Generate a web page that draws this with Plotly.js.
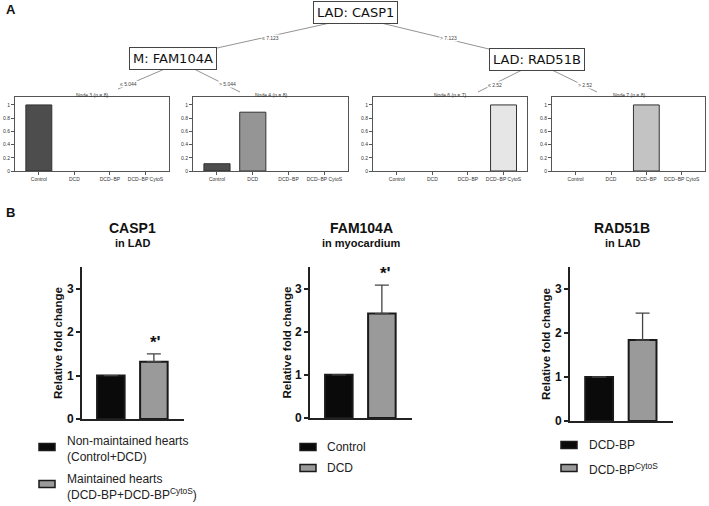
<!DOCTYPE html>
<html><head><meta charset="utf-8">
<script src="https://cdn.plot.ly/plotly-3.0.1.min.js"></script>
<style>html,body{margin:0;padding:0;background:#fff}#chart{width:709px;height:506px}</style>
</head><body><div id="chart"></div>
<script>
// ---------- data: panel A (decision tree terminal nodes) ----------
const treeCats = ['Control', 'DCD', 'DCD\u2212BP', 'DCD\u2212BP CytoS'];
const treeColors = ['#4D4D4D', '#959595', '#C3C3C3', '#E6E6E6'];
const node3 = [1, 0, 0, 0];
const node4 = [0.11, 0.89, 0, 0];
const node6 = [0, 0, 0, 1];
const node7 = [0, 0, 1, 0];
const nodeTitles = ['Node 3 (n = 8)', 'Node 4 (n = 8)', 'Node 6 (n = 7)', 'Node 7 (n = 8)'];
const splitNodes = ['LAD: CASP1', 'M: FAM104A', 'LAD: RAD51B'];
const splitLabels = ['\u2264 7.123', '> 7.123', '\u2264 5.044', '> 5.044', '\u2264 2.52', '> 2.52'];
const treeTicks = [0, 0.2, 0.4, 0.6, 0.8, 1];

// ---------- data: panel B (relative fold change) ----------
const casp1Groups = ['Non-maintained hearts<br>(Control+DCD)', 'Maintained hearts<br>(DCD-BP+DCD-BP<sup>CytoS</sup>)'];
const casp1Values = [1, 1.32];
const casp1Err = [0, 0.18];
const famGroups = ['Control', 'DCD'];
const famValues = [1, 2.42];
const famErr = [0, 0.66];
const radGroups = ['DCD-BP', 'DCD-BP<sup>CytoS</sup>'];
const radValues = [1, 1.84];
const radErr = [0, 0.61];
const panelTitles = ['CASP1', 'FAM104A', 'RAD51B'];
const panelSubs = ['in LAD', 'in myocardium', 'in LAD'];
const barColors = ['#0a0a0a', '#9a9a9a'];
const bTicks = [0, 1, 2, 3];

// ---------- layout helpers ----------
const W = 709, H = 506;
const px = x => x / W;
const py = y => 1 - y / H;
const xd = (a, b) => [a / W, b / W];
const yd = (t, b) => [1 - b / H, 1 - t / H];
const F = 'Liberation Sans, Arial, sans-serif';
const TF = 'DejaVu Sans, Verdana, sans-serif';

const traces = [];
const layout = {
  width: W, height: H, margin: {l: 0, r: 0, t: 0, b: 0},
  paper_bgcolor: '#fff', plot_bgcolor: 'rgba(0,0,0,0)', showlegend: false,
  bargap: 0, shapes: [], annotations: []
};
function ann(x, y, text, font, extra) {
  layout.annotations.push(Object.assign({xref: 'paper', yref: 'paper', x: px(x), y: py(y), text: text,
    showarrow: false, xanchor: 'center', yanchor: 'middle', font: font}, extra || {}));
}

// top panels
const nodes = [node3, node4, node6, node7];
const topDom = [[15, 169], [193, 348], [373, 527], [552, 705]];
nodes.forEach((vals, i) => {
  const n = i + 1;
  const xa = n === 1 ? 'x' : 'x' + n, ya = n === 1 ? 'y' : 'y' + n;
  traces.push({
    type: 'bar', x: treeCats, y: vals, xaxis: xa, yaxis: ya, width: 0.73,
    marker: {color: treeColors, line: {color: '#333', width: vals.map(v => v > 0 ? 1 : 0)}}, hoverinfo: 'skip'
  });
  layout['xaxis' + (n === 1 ? '' : n)] = {
    domain: xd(topDom[i][0], topDom[i][1]), anchor: ya, type: 'category', range: [-0.67, 3.66],
    showline: true, mirror: true, linecolor: '#555', linewidth: 1, ticks: 'outside', ticklen: 3,
    tickcolor: '#555', tickfont: {size: 5, color: '#333', family: F}, showgrid: false, zeroline: false
  };
  layout['yaxis' + (n === 1 ? '' : n)] = {
    domain: yd(97, 171), anchor: xa, range: [0, 1.12], tickvals: treeTicks,
    ticktext: treeTicks.map(String), showline: true, mirror: true, linecolor: '#555', linewidth: 1,
    ticks: 'outside', ticklen: 3, tickcolor: '#555', tickfont: {size: 5, color: '#333', family: F},
    showgrid: false, zeroline: false
  };
  ann((topDom[i][0] + topDom[i][1]) / 2, 94.5, nodeTitles[i], {size: 5, color: '#333', family: F});
});

// tree split nodes
const nodePos = [[355, 13], [173, 58], [537, 60]];
splitNodes.forEach((t, i) => {
  ann(nodePos[i][0], nodePos[i][1], t, {size: 13, color: '#111', family: TF},
    {bordercolor: '#444', borderwidth: 1, borderpad: 3, bgcolor: '#fff'});
});
const edges = [[330, 23, 217, 48], [381, 23, 493, 50], [167, 68, 118, 89], [192, 68, 240, 92], [522, 70, 478, 92], [552, 70, 597, 92]];
const edgeLab = [[270, 38], [448, 38], [128, 84], [227, 84], [495, 85], [585, 85]];
edges.forEach((e, i) => {
  layout.shapes.push({type: 'line', xref: 'paper', yref: 'paper', x0: px(e[0]), y0: py(e[1]), x1: px(e[2]), y1: py(e[3]),
    line: {color: '#777', width: 0.8}, layer: 'below'});
  ann(edgeLab[i][0], edgeLab[i][1], splitLabels[i], {size: 5, color: '#444', family: F}, {bgcolor: '#fff', borderpad: 0});
});

// bottom panels
const bData = [[casp1Groups, casp1Values, casp1Err], [famGroups, famValues, famErr], [radGroups, radValues, radErr]];
const bDom = [[82, 184, 267, 419], [310, 412, 267, 418], [570, 673, 267, 421]];
const titleX = [132, 361, 622];
const ytitleX = [58, 286, 546];
const stars = [[155, 342], [385, 273], null];
const legendPos = [
  {sx: 39, sw: 16, text: [[65, 449], [65, 487]], sw_y: [447, 484]},
  {sx: 300, sw: 16, text: [[325, 447], [325, 468]], sw_y: [447, 468]},
  {sx: 561, sw: 16, text: [[587, 445], [587, 469]], sw_y: [445, 468]}
];
bData.forEach((d, i) => {
  const n = i + 5;
  const xa = 'x' + n, ya = 'y' + n;
  traces.push({
    type: 'bar', x: d[0], y: d[1], xaxis: xa, yaxis: ya, width: 0.64,
    marker: {color: barColors, line: {color: '#1a1a1a', width: 2}}, hoverinfo: 'skip',
    error_y: {type: 'data', symmetric: false, array: d[2], arrayminus: d[2].map(() => 0),
      visible: true, color: '#444', thickness: 1.3, width: 7}
  });
  const dm = bDom[i];
  layout['xaxis' + n] = {domain: xd(dm[0], dm[1]), anchor: ya, type: 'category', range: [-0.67, 1.7],
    showline: true, linecolor: '#222', linewidth: 2, showticklabels: false, ticks: '', showgrid: false, zeroline: false};
  layout['yaxis' + n] = {domain: yd(dm[2], dm[3]), anchor: xa, range: [0, 3.5], tickvals: bTicks,
    showline: true, linecolor: '#222', linewidth: 2, ticks: 'outside', ticklen: 4, tickwidth: 2, tickcolor: '#222',
    tickfont: {size: 12, color: '#111', family: F, weight: 'bold'}, showgrid: false, zeroline: false};
  ann(titleX[i], 228, '<b>' + panelTitles[i] + '</b>', {size: 14, color: '#111', family: F});
  ann(titleX[i], 243, '<b>' + panelSubs[i] + '</b>', {size: 11, color: '#111', family: F});
  ann(ytitleX[i], (dm[2] + dm[3]) / 2, '<b>Relative fold change</b>', {size: 11.5, color: '#111', family: F}, {textangle: -90});
  if (stars[i]) ann(stars[i][0], stars[i][1], '<b>*\'</b>', {size: 17, color: '#111', family: F});
  const lp = legendPos[i];
  d[0].forEach((g, k) => {
    layout.shapes.push({type: 'rect', xref: 'paper', yref: 'paper', x0: px(lp.sx), x1: px(lp.sx + lp.sw),
      y0: py(lp.sw_y[k] - 3.5), y1: py(lp.sw_y[k] + 3.5), fillcolor: barColors[k], line: {color: '#1a1a1a', width: 1.5}});
    ann(lp.text[k][0], lp.text[k][1], g, {size: 12, color: '#222', family: F}, {xanchor: 'left', align: 'left'});
  });
});

// panel letters
ann(4, 9, '<b>A</b>', {size: 13, color: '#111', family: F}, {xanchor: 'left'});
ann(4, 212, '<b>B</b>', {size: 13, color: '#111', family: F}, {xanchor: 'left'});

Plotly.newPlot('chart', traces, layout, {staticPlot: true, displayModeBar: false});
</script></body></html>
